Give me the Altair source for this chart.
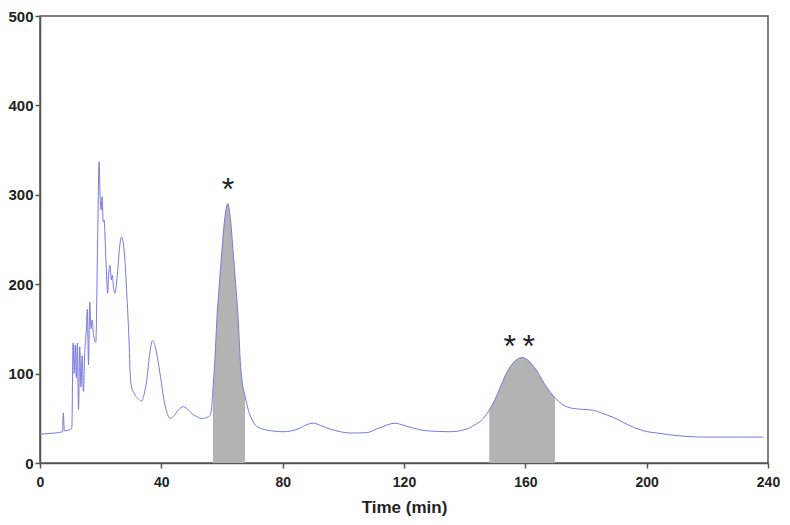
import altair as alt
import pandas as pd

# chromatogram trace (time in min, absorbance)
time_min = [0, 3, 6, 7.4, 7.7, 8.0, 10.2, 10.5, 10.9, 11.3, 11.6, 12.0, 12.3, 12.7, 13.1, 13.5,
            13.9, 14.3, 14.8, 15.3, 15.6, 16.0, 16.4, 16.8, 17.2, 17.6, 18.0, 18.4, 19.0, 19.5,
            19.8, 20.1, 20.5, 20.8, 21.1, 21.7, 22.3, 22.7, 23.1, 23.5, 23.8, 24.3, 24.7, 25.5,
            26.2, 26.9, 27.5, 28.0, 28.6, 29.3, 29.8, 30.2, 31.0, 32.4, 33.5, 34.4, 35.2, 36.2,
            37.1, 38.0, 39.0, 40.0, 40.7, 41.8, 42.9, 44.0, 45.5, 47.3, 49.0, 50.5, 51.7, 53.0,
            54.0, 55.0, 56.0, 56.6, 57.0, 57.7, 58.3, 59.0, 59.9, 60.8, 61.9, 62.8, 63.7, 64.5,
            65.4, 66.0, 66.6, 67.6, 68.7, 70.0, 71.4, 74.7, 80.2, 83.0, 85.7, 88.0, 90.1, 92.5,
            95.6, 99.0, 102.2, 107.7, 111.0, 113.2, 117.0, 120.0, 122.0, 127.5, 135.2, 140.7,
            143.0, 146.2, 148.1, 150.0, 152.0, 154.0, 156.0, 157.8, 159.1, 160.5, 162.0, 164.0,
            165.5, 167.0, 169.8, 172.0, 175.8, 179.0, 182.4, 185.0, 189.0, 192.0, 195.6, 199.0,
            204.4, 209.0, 214.3, 220.0, 230.0, 238.5]
signal = [32, 33, 34, 35, 56, 36, 38, 40, 134, 100, 132, 95, 134, 60, 130, 85,
          120, 80, 126, 150, 172, 110, 180, 150, 160, 145, 138, 135, 250, 337,
          300, 283, 298, 270, 272, 230, 190, 215, 221, 205, 210, 195, 190, 210,
          240, 253, 245, 227, 190, 141, 95, 85, 78, 72, 69, 78, 93, 123,
          137, 130, 112, 90, 74, 57, 50, 52, 59, 63, 59, 54, 52, 50,
          50, 51, 53, 62, 82, 118, 160, 195, 234, 270, 290, 272, 235, 200,
          157, 115, 92, 75, 59, 48, 41, 37, 35, 36, 39, 43, 44.5, 42,
          38, 35, 33.5, 34, 38, 41, 44.5, 42, 40, 36, 35, 38,
          42, 50, 59, 71, 87, 102, 112, 117, 118, 116, 111, 102,
          93, 85, 73, 66, 61, 60, 59, 56, 51, 46, 40, 36,
          33, 31, 29.5, 29, 29, 29]

# shaded fractions
shade_start = [57.0, 148.1]
shade_end = [67.6, 169.8]

# annotations
ann_time = [62.0, 158.0]
ann_value = [294, 119]
ann_text = ["*", "*\u2009*"]

df = pd.DataFrame({"t": time_min, "v": signal})
ann = pd.DataFrame({"t": ann_time, "v": ann_value, "label": ann_text})

xscale = alt.Scale(domain=[0, 240], nice=False)
yscale = alt.Scale(domain=[0, 500], nice=False)

xaxis = alt.Axis(values=[0, 40, 80, 120, 160, 200, 240], title="Time (min)", grid=False,
                 labelFont="Liberation Sans", labelFontWeight="bold", labelFontSize=14,
                 labelColor="#222", titleFont="Liberation Sans", titleFontWeight="bold",
                 titleFontSize=17, titleColor="#222", titlePadding=10, labelPadding=7,
                 tickSize=5, domainColor="#555", tickColor="#555", domainWidth=1.5,
                 tickWidth=1.5, labelFlush=False)
yaxis = alt.Axis(values=[0, 100, 200, 300, 400, 500], title=None, grid=False,
                 labelFont="Liberation Sans", labelFontWeight="bold", labelFontSize=15,
                 labelColor="#222", labelPadding=2, tickSize=5, domainColor="#555",
                 tickColor="#555", domainWidth=1.5, tickWidth=1.5, labelFlush=False)

base = alt.Chart(df)

areas = []
for a, b in zip(shade_start, shade_end):
    areas.append(
        base.transform_filter(
            (alt.datum.t >= a) & (alt.datum.t <= b)
        ).mark_area(color="#b3b3b3", interpolate="monotone", opacity=1).encode(
            x=alt.X("t:Q", scale=xscale),
            y=alt.Y("v:Q", scale=yscale),
        )
    )

line = base.mark_line(color="#7878e0", strokeWidth=1.0, interpolate="monotone").encode(
    x=alt.X("t:Q", scale=xscale, axis=xaxis),
    y=alt.Y("v:Q", scale=yscale, axis=yaxis),
)

text = alt.Chart(ann).mark_text(
    font="Liberation Sans", fontSize=32, color="#222", baseline="alphabetic", align="center"
).encode(
    x=alt.X("t:Q", scale=xscale),
    y=alt.Y("v:Q", scale=yscale),
    text="label:N",
)

chart = alt.layer(*areas, line, text).properties(
    width=728, height=447,
    autosize=alt.AutoSizeParams(type="none"),
    padding={"left": 32, "top": 8, "right": 14, "bottom": 54},
).configure_view(stroke="#555", strokeWidth=1.5)

chart.save("out.html", embed_options={"renderer": "svg", "actions": False})
